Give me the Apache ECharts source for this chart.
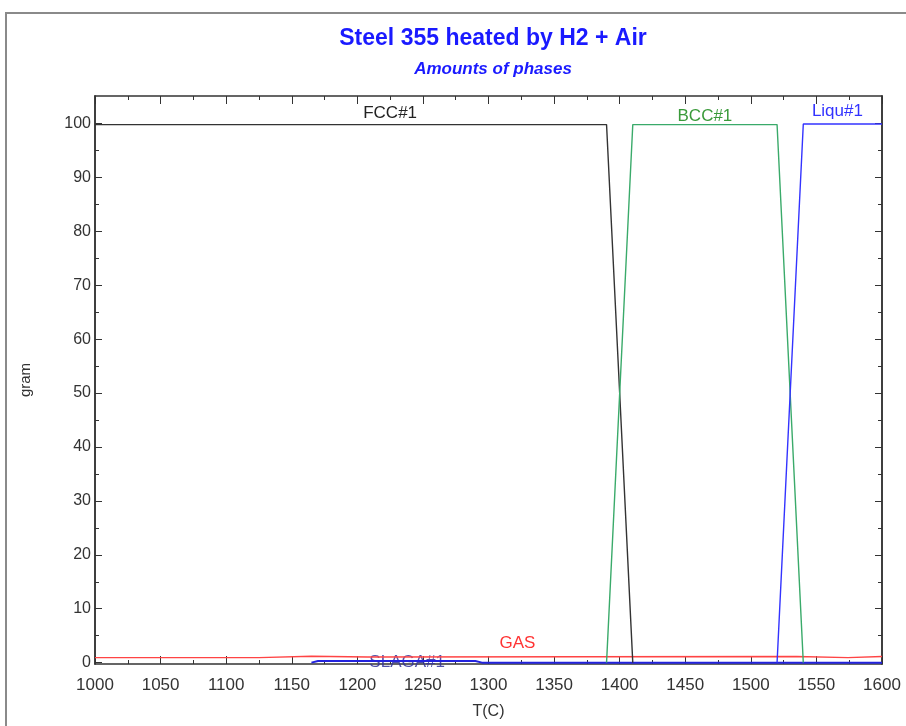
<!DOCTYPE html>
<html>
<head>
<meta charset="utf-8">
<script src="https://cdn.jsdelivr.net/npm/echarts@6/dist/echarts.min.js"></script>
<style>
  html, body { margin: 0; padding: 0; background: #fff; }
  #chart { width: 906px; height: 726px; }
</style>
</head>
<body>
<div id="chart"></div>
<script>
// Phase amounts (gram) versus temperature T (C)
const fcc = [[1000, 99.8], [1390, 99.8], [1400, 50], [1410, 0]];
const bcc = [[1390, 0], [1410, 99.8], [1520, 99.8], [1540, 0]];
const liq = [[1520, 0], [1540, 99.9], [1600, 99.9]];
const gas = [[1000, 0.93], [1125, 0.93], [1125, 1.2], [1165, 1.2], [1165, 1.05], [1208, 1.05],
             [1208, 1.15], [1535, 1.15], [1535, 0.93], [1574, 0.93], [1574, 1.15], [1600, 1.15]];
const slag = [[1165, 0], [1170, 0.3], [1290, 0.3], [1295, 0], [1600, 0]];

// Phase name labels, anchored in data units (T, gram)
const phaseLabels = [
  { name: 'FCC#1', at: [1225, 101.9], color: '#222222' },
  { name: 'BCC#1', at: [1465, 101.3], color: '#3a9a3a' },
  { name: 'Liqu#1', at: [1566, 102.3], color: '#3333ff' },
  { name: 'GAS', at: [1322, 3.6], color: '#ff3333' },
  { name: 'SLAGA#1', at: [1238, 0.1], color: '#333399' }
];

// Axis ticks
const yMajor = [0, 10, 20, 30, 40, 50, 60, 70, 80, 90, 100];
const yMinor = [5, 15, 25, 35, 45, 55, 65, 75, 85, 95];
const xRange = [1000, 1600];
const yRange = [-0.25, 105.1];

const FONT = 'Liberation Sans, Arial, sans-serif';
const AXIS_COLOR = '#333333';

function xAxisCfg(pos, labels) {
  return {
    type: 'value', position: pos, min: xRange[0], max: xRange[1], interval: 50,
    name: labels ? 'T(C)' : '', nameLocation: 'middle', nameGap: 40,
    nameTextStyle: { fontFamily: FONT, fontSize: 16, color: '#333' },
    axisLine: { show: true, onZero: false, lineStyle: { color: AXIS_COLOR, width: 1.5 } },
    axisTick: { show: true, inside: true, length: 8, lineStyle: { color: AXIS_COLOR } },
    minorTick: { show: true, splitNumber: 2, length: 4, lineStyle: { color: AXIS_COLOR } },
    axisLabel: { show: labels, fontFamily: FONT, fontSize: 17, color: '#333', margin: 13,
                 formatter: v => String(v) },
    splitLine: { show: false }
  };
}

function yAxisCfg(pos, values, len, labels, name) {
  return {
    type: 'value', position: pos, min: yRange[0], max: yRange[1],
    name: name || '', nameLocation: 'middle', nameGap: 62,
    nameTextStyle: { fontFamily: FONT, fontSize: 15, color: '#333' },
    axisLine: { show: true, onZero: false, lineStyle: { color: AXIS_COLOR, width: 1.5 } },
    axisTick: { show: true, inside: true, length: len, customValues: values, lineStyle: { color: AXIS_COLOR } },
    axisLabel: { show: labels, customValues: values, fontFamily: FONT, fontSize: 16, color: '#333', margin: 4 },
    splitLine: { show: false }
  };
}

function lineSeries(name, data, color, width) {
  return {
    name, type: 'line', data, xAxisIndex: 0, yAxisIndex: 0,
    symbol: 'none', lineStyle: { color, width: width || 1.4 }, silent: true, animation: false
  };
}

const chart = echarts.init(document.getElementById('chart'));
chart.setOption({
  backgroundColor: '#ffffff',
  animation: false,
  title: [
    { text: 'Steel 355 heated by H2 + Air', left: 488, top: 22, textAlign: 'center',
      textStyle: { fontFamily: FONT, fontSize: 23, fontWeight: 'bold', color: '#1a1aff' } },
    { text: 'Amounts of phases', left: 488, top: 56, textAlign: 'center',
      textStyle: { fontFamily: FONT, fontSize: 17, fontWeight: 'bold', fontStyle: 'italic', color: '#1a1aff' } }
  ],
  graphic: [
    { type: 'polyline', shape: { points: [[6, 726], [6, 13], [906, 13]] },
      style: { stroke: '#8a8a8a', lineWidth: 2, fill: null } }
  ],
  grid: { left: 95, right: 24, top: 96, bottom: 62, containLabel: false },
  xAxis: [xAxisCfg('bottom', true), xAxisCfg('top', false)],
  yAxis: [
    yAxisCfg('left', yMajor, 7, true, 'gram'),
    yAxisCfg('left', yMinor, 4, false),
    yAxisCfg('right', yMajor, 7, false),
    yAxisCfg('right', yMinor, 4, false)
  ],
  series: [
    lineSeries('GAS', gas, '#ff4444'),
    lineSeries('SLAGA#1', slag, '#2222dd', 2),
    lineSeries('FCC#1', fcc, '#333333'),
    lineSeries('BCC#1', bcc, '#3aaa6a'),
    lineSeries('Liqu#1', liq, '#3333ff'),
    {
      type: 'scatter', xAxisIndex: 0, yAxisIndex: 0, symbolSize: 0, silent: true,
      data: phaseLabels.map(p => ({
        value: p.at,
        label: { show: true, position: 'inside', formatter: p.name, color: p.color,
                 fontFamily: FONT, fontSize: 17, opacity: p.name === 'SLAGA#1' ? 0.85 : 1 }
      }))
    }
  ]
});
</script>
</body>
</html>
